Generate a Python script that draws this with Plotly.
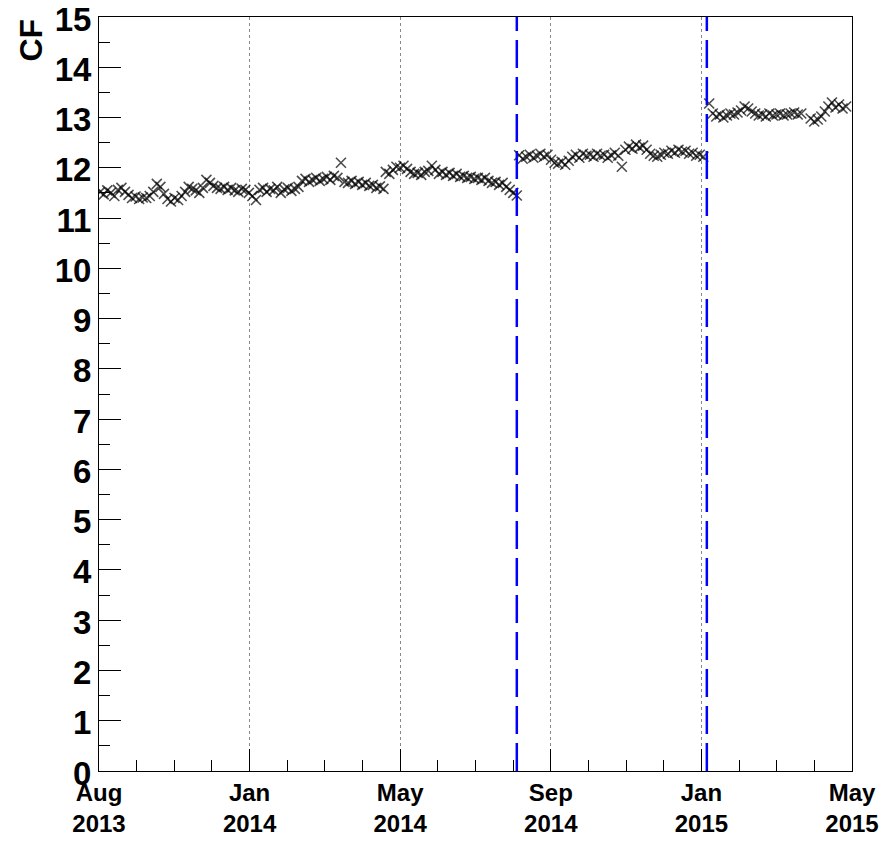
import pandas as pd
import plotly.graph_objects as go

# ---------------- data ----------------
axis_start = "2013-08-01"
axis_end = "2015-05-01"
tick_labels = ["Aug<br>2013", "Jan<br>2014", "May<br>2014", "Sep<br>2014", "Jan<br>2015", "May<br>2015"]
step_days = 3

seg1_start = "2013-08-02"
seg1_cf = [11.52, 11.47, 11.55, 11.50, 11.44, 11.56, 11.60, 11.52, 11.46, 11.40,
           11.43, 11.38, 11.41, 11.40, 11.44, 11.52, 11.68, 11.62, 11.48, 11.38,
           11.33, 11.40, 11.36, 11.44, 11.52, 11.62, 11.58, 11.55, 11.50, 11.60,
           11.76, 11.70, 11.64, 11.60, 11.58, 11.62, 11.56, 11.60, 11.55, 11.52,
           11.58, 11.56, 11.50, 11.44, 11.36, 11.56, 11.60, 11.52, 11.58, 11.55,
           11.62, 11.50, 11.57, 11.60, 11.54, 11.58, 11.62, 11.74, 11.78, 11.72,
           11.76, 11.80, 11.74, 11.78, 11.82, 11.76, 11.84, 11.80, 12.10, 11.72,
           11.70, 11.74, 11.68, 11.72, 11.66, 11.70, 11.64, 11.66, 11.60, 11.63,
           11.58]

seg2_start = "2014-04-01"
seg2_cf = [11.92, 11.88, 11.96, 12.02, 12.00, 12.04, 11.98, 11.92, 11.88, 11.90,
           11.86, 11.92, 11.94, 12.04, 11.96, 11.88, 11.92, 11.86, 11.90, 11.84,
           11.88, 11.82, 11.84, 11.80, 11.82, 11.78, 11.80, 11.76, 11.80, 11.74,
           11.70, 11.72, 11.66, 11.70, 11.62, 11.56, 11.50, 11.45]

seg3_start = "2014-07-23"
seg3_cf = [12.25, 12.18, 12.22, 12.26, 12.20, 12.24, 12.28, 12.22, 12.26, 12.16,
           12.10, 12.08, 12.12, 12.06, 12.14, 12.22, 12.26, 12.20, 12.28, 12.24,
           12.26, 12.22, 12.28, 12.24, 12.26, 12.20, 12.25, 12.30, 12.24, 12.02,
           12.36, 12.42, 12.38, 12.46, 12.40, 12.44, 12.36, 12.28, 12.24, 12.22,
           12.26, 12.30, 12.28, 12.34, 12.30, 12.36, 12.32, 12.34, 12.28, 12.30,
           12.24, 12.26, 12.22]

seg4_start = "2014-12-31"
seg4_cf = [13.28, 13.08, 13.02, 13.06, 13.00, 13.04, 13.08, 13.06, 13.10, 13.14,
           13.22, 13.18, 13.12, 13.08, 13.04, 13.06, 13.02, 13.08, 13.04, 13.06,
           13.08, 13.04, 13.06, 13.08, 13.10, 13.06, 13.08]

seg5_start = "2015-03-27"
seg5_cf = [12.98, 12.92, 12.96, 13.02, 13.12, 13.22, 13.30, 13.20, 13.26, 13.18, 13.22]

change_dates = ["2014-07-21", "2014-12-29"]

# ---------------- build ----------------
xs, ys = [], []
for s, v in [(seg1_start, seg1_cf), (seg2_start, seg2_cf), (seg3_start, seg3_cf),
             (seg4_start, seg4_cf), (seg5_start, seg5_cf)]:
    d = pd.date_range(start=s, periods=len(v), freq=f"{step_days}D")
    xs.extend(list(d))
    ys.extend(v)

t0 = pd.Timestamp(axis_start)
t1 = pd.Timestamp(axis_end)
major = [t0 + (t1 - t0) * k / 5 for k in range(6)]
minor = [t0 + (t1 - t0) * k / 20 for k in range(21) if k % 4 != 0]

fig = go.Figure()
fig.add_trace(go.Scatter(
    x=xs, y=ys, mode="markers",
    marker=dict(symbol="x-thin-open", size=10, color="rgba(0,0,0,0.7)",
                line=dict(width=1.6, color="rgba(0,0,0,0.7)")),
    showlegend=False, hoverinfo="x+y"))

for cd in change_dates:
    fig.add_shape(type="line", xref="x", yref="paper", x0=cd, x1=cd, y0=0, y1=1,
                  line=dict(color="#0000ff", width=2.5, dash="28px,9px"))

# page body has an 8px margin, so the figure is offset by 8px in the window
fig.update_layout(
    width=880, height=827,
    margin=dict(l=91, r=36, t=9, b=64, autoexpand=False),
    paper_bgcolor="white", plot_bgcolor="white",
    font=dict(family="Liberation Sans", color="black"),
    xaxis=dict(
        type="date", range=[t0, t1], automargin=False,
        tickmode="array", tickvals=major, ticktext=tick_labels,
        tickfont=dict(family="Liberation Sans", size=24, weight="bold"),
        ticklabeloverflow="allow",
        ticks="inside", ticklen=22, tickcolor="black", tickwidth=1,
        showline=True, linecolor="black", linewidth=1, mirror=True,
        showgrid=True, gridcolor="#888888", griddash="dot", gridwidth=1,
        minor=dict(tickmode="array", tickvals=minor, ticks="inside", ticklen=11,
                   tickcolor="black", showgrid=False),
        zeroline=False,
    ),
    yaxis=dict(
        range=[0, 15], tickmode="array", tickvals=list(range(16)), automargin=False,
        tickfont=dict(family="Liberation Sans", size=33, weight="bold"),
        ticklabeloverflow="allow", ticklabelshift=2,
        ticks="inside", ticklen=22, tickcolor="black", tickwidth=1,
        showline=True, linecolor="black", linewidth=1, mirror=True,
        showgrid=False, zeroline=False,
        minor=dict(tickmode="array", tickvals=[k + 0.5 for k in range(15)],
                   ticks="inside", ticklen=11, tickcolor="black", showgrid=False),
    ),
    annotations=[dict(text="<b>CF</b>", xref="paper", yref="paper", x=0, y=1,
                      xanchor="center", yanchor="top", xshift=-69, yshift=0,
                      textangle=-90, showarrow=False,
                      font=dict(family="Liberation Sans", size=32, color="black"))],
)

fig.write_html("out.html")
